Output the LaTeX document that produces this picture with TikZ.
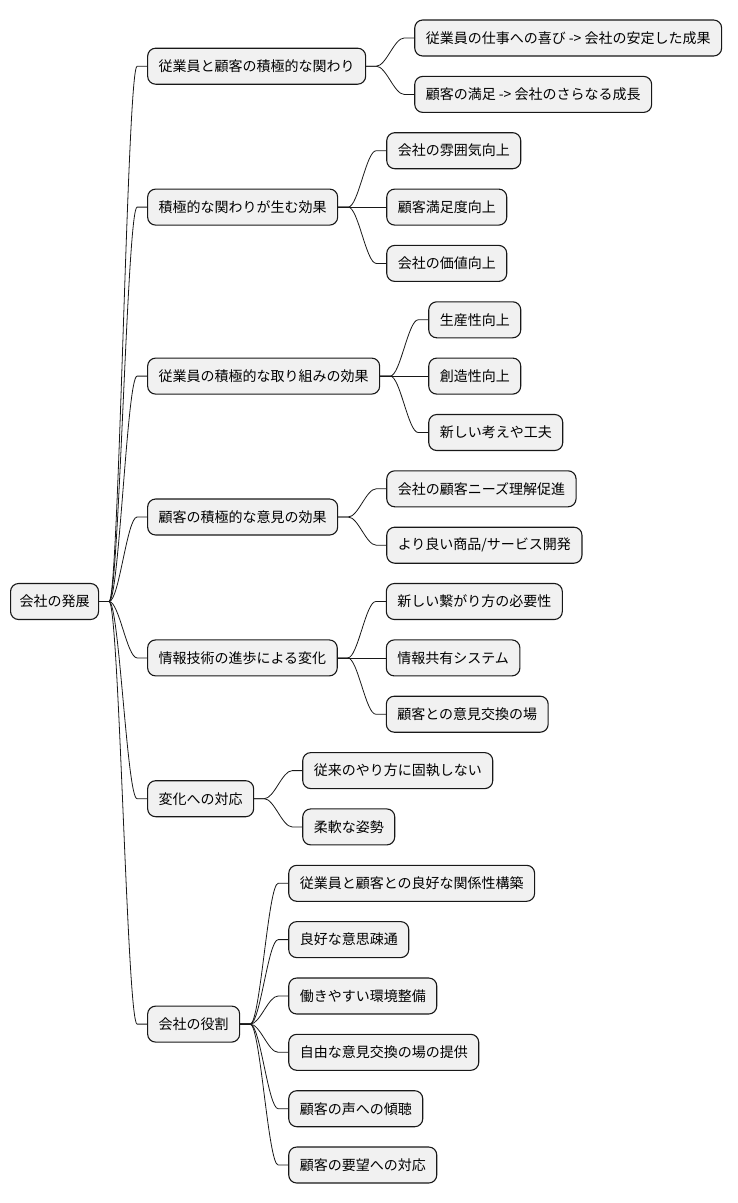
\documentclass[tikz,border=0pt]{standalone}
\usepackage{fontspec}
\setmainfont{Noto Sans CJK JP}
\usetikzlibrary{calc}
\definecolor{boxfill}{HTML}{F1F1F1}
\definecolor{boxline}{HTML}{181818}
\tikzset{
  mmbox/.style={draw=boxline, line width=1.1pt, fill=boxfill, rounded corners=8pt,
    minimum height=36pt, inner xsep=11pt, inner ysep=0pt,
    font=\fontsize{14pt}{16pt}\selectfont, anchor=west},
  mmlink/.style={draw=boxline, line width=0.8pt}
}
\newcommand\mmconn[2]{\draw[mmlink] (#1.east) -- ($(#1.east)+(10,0)$) .. controls ($(#1.east)+(20,0)$) and ($(#2.west)+(-20,0)$) .. ($(#2.west)+(-10,0)$) -- (#2.west);}
\newcommand\mmkid[4]{\node[mmbox] (#1) at ($(#2.east |- 0,#3)+(48,0)$) {#4}; \mmconn{#2}{#1}}
\begin{document}
\begin{tikzpicture}[x=1pt,y=-1pt]
\useasboundingbox (0,0) rectangle (738,1203);
\node[mmbox, inner xsep=9pt] (r) at (10,601.5) {会社の発展};
% level 1
\mmkid{a}{r}{66.2}{従業員と顧客の積極的な関わり}
\mmkid{b}{r}{207.1}{積極的な関わりが生む効果}
\mmkid{c}{r}{376.1}{従業員の積極的な取り組みの効果}
\mmkid{d}{r}{517.0}{顧客の積極的な意見の効果}
\mmkid{e}{r}{657.9}{情報技術の進歩による変化}
\mmkid{f}{r}{798.7}{変化への対応}
\mmkid{g}{r}{1024.1}{会社の役割}
% level 2
\mmkid{a1}{a}{38}{従業員の仕事への喜び -> 会社の安定した成果}
\mmkid{a2}{a}{94.4}{顧客の満足 -> 会社のさらなる成長}
\mmkid{b1}{b}{150.7}{会社の雰囲気向上}
\mmkid{b2}{b}{207.1}{顧客満足度向上}
\mmkid{b3}{b}{263.4}{会社の価値向上}
\mmkid{c1}{c}{319.8}{生産性向上}
\mmkid{c2}{c}{376.1}{創造性向上}
\mmkid{c3}{c}{432.5}{新しい考えや工夫}
\mmkid{d1}{d}{488.8}{会社の顧客ニーズ理解促進}
\mmkid{d2}{d}{545.2}{より良い商品/サービス開発}
\mmkid{e1}{e}{601.5}{新しい繋がり方の必要性}
\mmkid{e2}{e}{657.9}{情報共有システム}
\mmkid{e3}{e}{714.2}{顧客との意見交換の場}
\mmkid{f1}{f}{770.6}{従来のやり方に固執しない}
\mmkid{f2}{f}{826.9}{柔軟な姿勢}
\mmkid{g1}{g}{883.3}{従業員と顧客との良好な関係性構築}
\mmkid{g2}{g}{939.6}{良好な意思疎通}
\mmkid{g3}{g}{996.0}{働きやすい環境整備}
\mmkid{g4}{g}{1052.3}{自由な意見交換の場の提供}
\mmkid{g5}{g}{1108.7}{顧客の声への傾聴}
\mmkid{g6}{g}{1165.0}{顧客の要望への対応}
\end{tikzpicture}
\end{document}
